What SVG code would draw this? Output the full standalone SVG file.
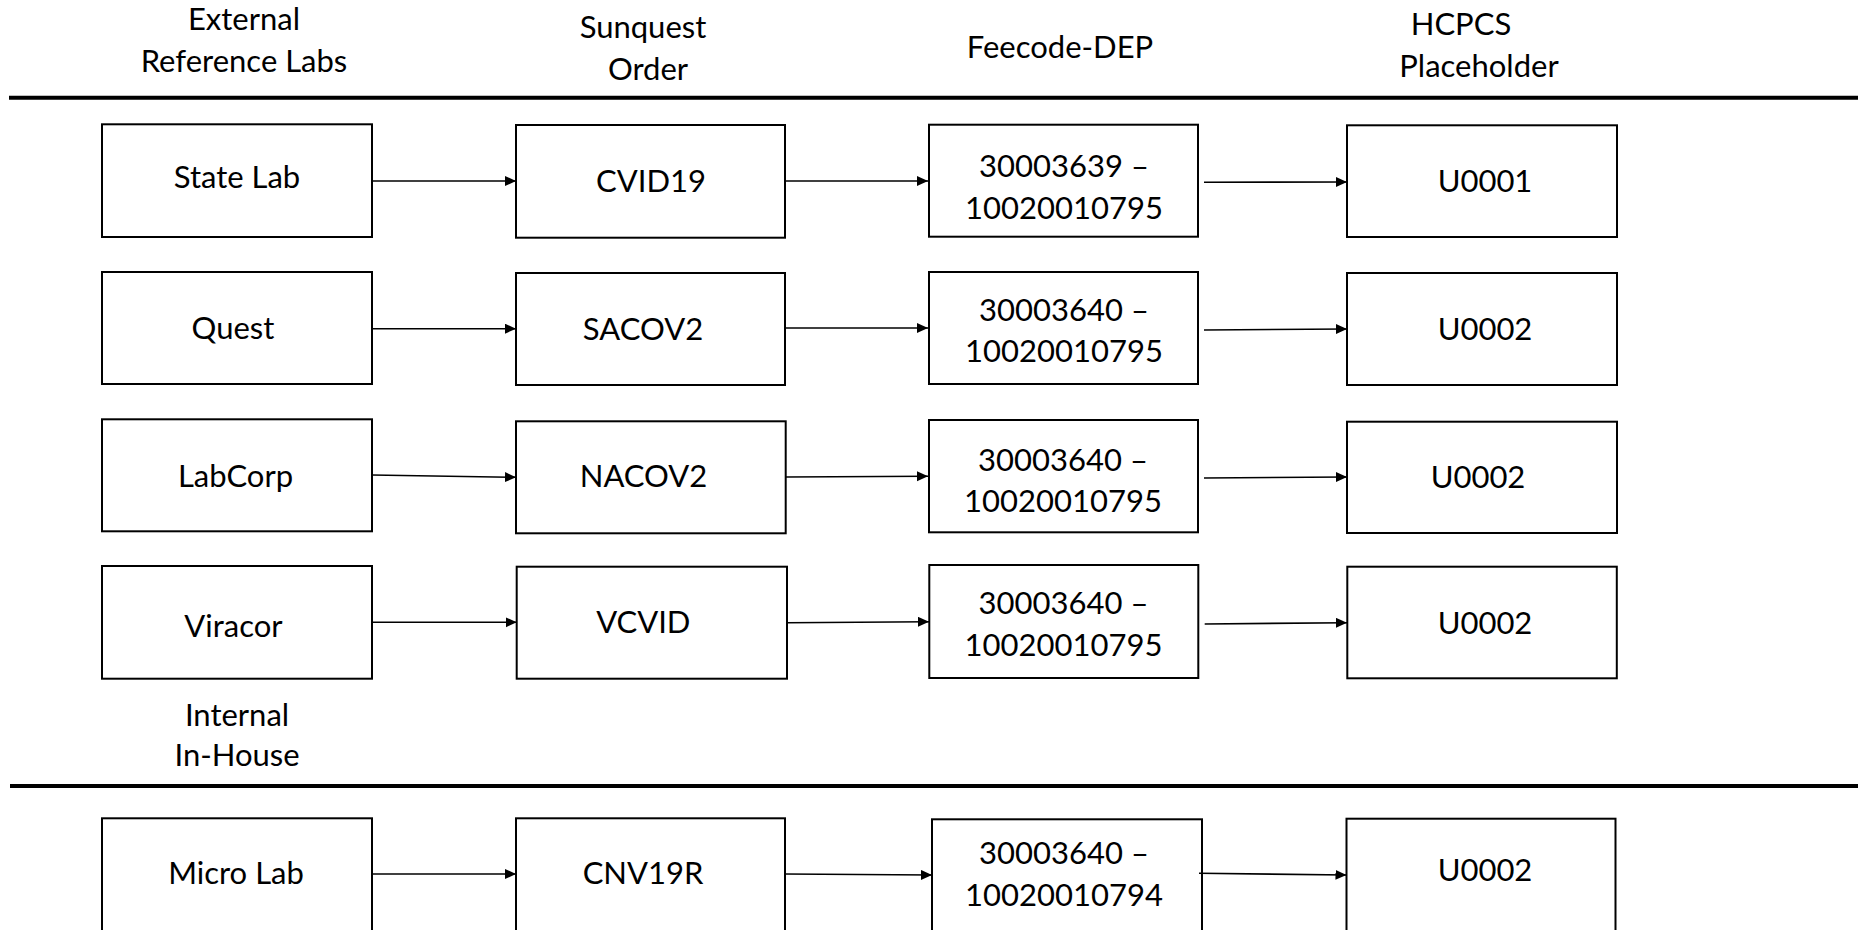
<svg xmlns="http://www.w3.org/2000/svg" width="1858" height="930" viewBox="0 0 1858 930">
<style>
text{font-family:Lato,"Liberation Sans",sans-serif;font-size:31px;fill:#000;text-anchor:middle}
.box{fill:#fff;stroke:#000;stroke-width:2}
.sep{stroke:#000;stroke-width:4}
.conn line{stroke:#000;stroke-width:1.6;marker-end:url(#ah)}
</style>
<defs>
<marker id="ah" markerUnits="userSpaceOnUse" markerWidth="12" markerHeight="11" refX="11" refY="5" orient="auto">
<path d="M0,0 L11,5 L0,10 Z" fill="#000"/>
</marker>
</defs>
<rect width="1858" height="930" fill="#fff"/>
<g id="headers">
<text x="244" y="30">External</text>
<text x="244" y="72">Reference Labs</text>
<text x="643" y="38">Sunquest</text>
<text x="648" y="80">Order</text>
<text x="1060" y="58">Feecode-DEP</text>
<text x="1461" y="35">HCPCS</text>
<text x="1479" y="77">Placeholder</text>
<text x="237" y="726">Internal</text>
<text x="237" y="766">In-House</text>
</g>
<g id="separators">
<line class="sep" x1="9" y1="97.7" x2="1858" y2="97.7"/>
<line class="sep" x1="10" y1="786" x2="1858" y2="786"/>
</g>
<g id="n-statelab"><rect class="box" x="102" y="124.3" width="270" height="112.7"/><text x="237" y="188.3">State Lab</text></g>
<g id="n-quest"><rect class="box" x="102" y="272" width="270" height="112"/><text x="233" y="339.3">Quest</text></g>
<g id="n-labcorp"><rect class="box" x="102" y="419.3" width="270" height="112"/><text x="235.5" y="486.7">LabCorp</text></g>
<g id="n-viracor"><rect class="box" x="102" y="566" width="270" height="112.7"/><text x="233.5" y="636.7">Viracor</text></g>
<g id="n-microlab"><rect class="box" x="102" y="818.3" width="270" height="113"/><text x="236" y="884.3">Micro Lab</text></g>

<g id="n-cvid19"><rect class="box" x="516" y="125" width="269" height="112.7"/><text x="651" y="191.7">CVID19</text></g>
<g id="n-sacov2"><rect class="box" x="516" y="273" width="269" height="112"/><text x="643" y="340">SACOV2</text></g>
<g id="n-nacov2"><rect class="box" x="516" y="421.3" width="269.7" height="112"/><text x="643.5" y="487.3">NACOV2</text></g>
<g id="n-vcvid"><rect class="box" x="516.7" y="566.7" width="270.3" height="112"/><text x="643.3" y="633.3">VCVID</text></g>
<g id="n-cnv19r"><rect class="box" x="516" y="818.3" width="269" height="113"/><text x="643" y="884.3">CNV19R</text></g>

<g id="n-fee1"><rect class="box" x="929" y="124.7" width="269" height="112"/><text x="1064" y="177.3">30003639 –</text><text x="1064" y="219">10020010795</text></g>
<g id="n-fee2"><rect class="box" x="929" y="272" width="269" height="112"/><text x="1064" y="320.7">30003640 –</text><text x="1064" y="361.7">10020010795</text></g>
<g id="n-fee3"><rect class="box" x="929" y="420" width="269" height="112.3"/><text x="1063" y="470.7">30003640 –</text><text x="1063" y="511.7">10020010795</text></g>
<g id="n-fee4"><rect class="box" x="929.3" y="565" width="269" height="113"/><text x="1063.5" y="614">30003640 –</text><text x="1063.5" y="656">10020010795</text></g>
<g id="n-fee5"><rect class="box" x="932" y="819.3" width="270" height="113"/><text x="1064" y="864.3">30003640 –</text><text x="1064" y="905.7">10020010794</text></g>

<g id="n-u1"><rect class="box" x="1347" y="125.3" width="270" height="111.7"/><text x="1485" y="191.7">U0001</text></g>
<g id="n-u2a"><rect class="box" x="1347" y="273" width="270" height="112"/><text x="1485" y="340">U0002</text></g>
<g id="n-u2b"><rect class="box" x="1347" y="421.7" width="270" height="111.3"/><text x="1478" y="488.3">U0002</text></g>
<g id="n-u2c"><rect class="box" x="1347.3" y="566.7" width="269.5" height="111.6"/><text x="1485" y="634.3">U0002</text></g>
<g id="n-u2d"><rect class="box" x="1346.5" y="818.7" width="269" height="113"/><text x="1485" y="880.7">U0002</text></g>

<g id="connectors" class="conn">
<line x1="372" y1="181" x2="516" y2="181"/>
<line x1="785" y1="181" x2="928" y2="181"/>
<line x1="1204" y1="182.3" x2="1347" y2="182"/>
<line x1="372" y1="328.7" x2="516" y2="328.7"/>
<line x1="785" y1="328" x2="928" y2="328"/>
<line x1="1204" y1="330" x2="1347" y2="329"/>
<line x1="372" y1="475" x2="516" y2="477.3"/>
<line x1="785.7" y1="477" x2="928" y2="476.3"/>
<line x1="1204" y1="478" x2="1347" y2="477"/>
<line x1="372" y1="622.3" x2="516.7" y2="622.3"/>
<line x1="787" y1="622.7" x2="929" y2="621.7"/>
<line x1="1204.7" y1="624" x2="1347" y2="622.7"/>
<line x1="372" y1="874" x2="516" y2="874"/>
<line x1="785" y1="874" x2="932" y2="875"/>
<line x1="1199" y1="873.3" x2="1346.5" y2="875"/>
</g>
</svg>
